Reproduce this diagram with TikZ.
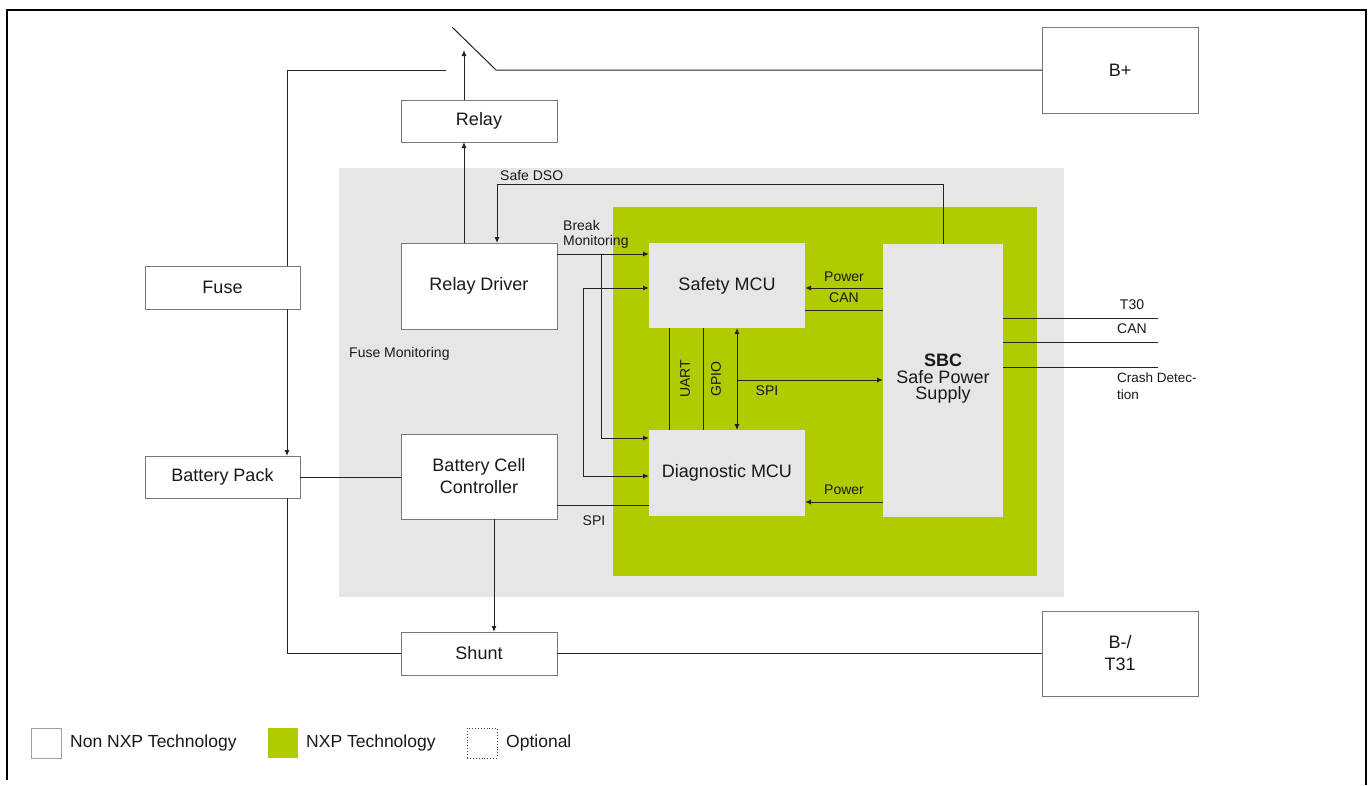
\documentclass[tikz,border=0pt]{standalone}
\usepackage{fontspec}
\setmainfont{Liberation Sans}
\usetikzlibrary{arrows.meta,calc}
\definecolor{lgray}{RGB}{230,230,230}
\definecolor{nxpgreen}{RGB}{176,203,0}
\definecolor{bordergray}{RGB}{120,120,120}
\definecolor{wirec}{RGB}{35,35,35}
\definecolor{txt}{RGB}{25,25,25}
\tikzset{
  wbox/.style={draw=bordergray, line width=0.8pt, fill=white, inner sep=0pt, outer sep=0pt,
    align=center, text=txt, font=\fontsize{18}{22}\selectfont},
  gbox/.style={fill=lgray, inner sep=0pt, outer sep=0pt, align=center, text=txt,
    font=\fontsize{18}{22}\selectfont},
  lbl/.style={inner sep=0pt, text=txt, font=\fontsize{14}{15}\selectfont},
  leg/.style={inner sep=0pt, text=txt, font=\fontsize{17.5}{20}\selectfont, anchor=west},
  wire/.style={draw=wirec, line width=1pt},
  arr/.style={wire, -{Latex[length=6pt,width=5pt]}},
  darr/.style={wire, {Latex[length=6pt,width=5pt]}-{Latex[length=6pt,width=5pt]}},
  frame/.style={draw=black, line width=2.5pt}
}
\begin{document}
\begin{tikzpicture}[x=1pt,y=-1pt]
\useasboundingbox (0,0) rectangle (1368,785);
\fill[white] (0,0) rectangle (1368,785);
% frame
\draw[frame] (7,780) -- (7,10) -- (1366,10) -- (1366,785);
% regions
\fill[lgray] (339,168) rectangle (1064,597);
\fill[nxpgreen] (613,207) rectangle (1037,576);
% boxes
\node[wbox, minimum width=156pt, minimum height=86pt] (bplus) at (1120,70) {B+};
\node[wbox, minimum width=156pt, minimum height=42pt] (relay) at (479,121) {Relay};
\node[wbox, minimum width=155pt, minimum height=43pt] (fuse) at (222.5,287.5) {Fuse};
\node[wbox, minimum width=156pt, minimum height=86pt] (rdrv) at (479,286) {Relay Driver};
\node[wbox, minimum width=155pt, minimum height=42pt] (bpack) at (222.5,477) {Battery Pack};
\node[wbox, minimum width=156pt, minimum height=85pt] (bcc) at (479,476.5) {Battery Cell\\Controller};
\node[wbox, minimum width=156pt, minimum height=43pt] (shunt) at (479,653.5) {Shunt};
\node[wbox, minimum width=156pt, minimum height=85pt] (bminus) at (1120,653.5) {B-/\\T31};
\node[gbox, minimum width=156pt, minimum height=85pt] (smcu) at (727,285.5) {Safety MCU};
\node[gbox, minimum width=156pt, minimum height=86pt] (dmcu) at (727,473) {Diagnostic MCU};
\node[gbox, minimum width=120pt, minimum height=273pt] (sbc) at (943,380.5) {};
\node[inner sep=0pt, align=center, text=txt, font=\fontsize{18}{16.5}\selectfont] (sbct) at (943,379) {\textbf{SBC}\\Safe Power\\Supply};
% coordinates
\coordinate (sw0) at (446,70);
\coordinate (sw1) at (496,70);
\coordinate (sw2) at (452,27);
\coordinate (c1) at (287,70);
\coordinate (xr) at (464,50);
\coordinate (dso) at (497,184);
\coordinate (bm) at (601,254);
\coordinate (bm2) at (601,438);
\coordinate (fm) at (583,288);
\coordinate (fm2) at (583,476);
\coordinate (spi1) at (557,505);
\coordinate (xs) at (494,0);
\coordinate (xu) at (669,0);
\coordinate (xg) at (703,0);
\coordinate (xp) at (737,380);
\coordinate (pw1) at (0,288);
\coordinate (can1) at (0,310);
\coordinate (pw2) at (0,502);
\coordinate (t30) at (1158,318);
\coordinate (can2) at (1158,342);
\coordinate (crash) at (1158,367);
% switch and power path
\draw[wire] (bplus.west) -- (sw1) -- (sw2);
\draw[wire] (sw0) -- (c1) -- (c1 |- fuse.north);
\draw[arr] (c1 |- fuse.south) -- (c1 |- bpack.north);
\draw[wire] (c1 |- bpack.south) |- (shunt.west);
\draw[wire] (shunt.east) -- (bminus.west);
% relay
\draw[arr] (relay.north -| xr) -- (xr);
\draw[arr] (rdrv.north -| xr) -- (relay.south -| xr);
% safe DSO
\draw[arr] (sbc.north) |- (dso) -- (rdrv.north -| dso);
\node[lbl, anchor=west] (lsafe) at (500,175) {Safe DSO};
% break monitoring
\draw[arr] (rdrv.east |- bm) -- (smcu.west |- bm);
\draw[arr] (bm) -- (bm2) -- (dmcu.west |- bm2);
\node[lbl, anchor=west, align=left] (lbreak) at (563,234.5) {Break\\Monitoring};
% fuse monitoring loop
\draw[arr] (fm) -- (smcu.west |- fm);
\draw[arr] (fm) -- (fm2) -- (dmcu.west |- fm2);
\node[lbl, anchor=west] (lfuse) at (349,354) {Fuse Monitoring};
% BCC
\draw[wire] (bpack.east) -- (bpack.east -| bcc.west);
\draw[wire] (spi1) -- (dmcu.west |- spi1);
\node[lbl] (lspi1) at (594,521) {SPI};
\draw[arr] (bcc.south -| xs) -- (shunt.north -| xs);
% MCU links
\draw[wire] (smcu.south -| xu) -- (dmcu.north -| xu);
\draw[wire] (smcu.south -| xg) -- (dmcu.north -| xg);
\draw[darr] (smcu.south -| xp) -- (dmcu.north -| xp);
\draw[arr] (xp) -- (sbc.west |- xp);
\node[lbl, rotate=90] (luart) at (685,379) {UART};
\node[lbl, rotate=90] (lgpio) at (716,379) {GPIO};
\node[lbl] (lspi2) at (767,391) {SPI};
% SBC to MCUs
\draw[arr] (sbc.west |- pw1) -- (smcu.east |- pw1);
\draw[wire] (smcu.east |- can1) -- (sbc.west |- can1);
\draw[arr] (sbc.west |- pw2) -- (dmcu.east |- pw2);
\node[lbl] (lpw1) at (844,277) {Power};
\node[lbl] (lcan1) at (844,298) {CAN};
\node[lbl] (lpw2) at (844,490) {Power};
% SBC outputs
\draw[wire] (sbc.east |- t30) -- (t30);
\draw[wire] (sbc.east |- can2) -- (can2);
\draw[wire] (sbc.east |- crash) -- (crash);
\node[lbl] (lt30) at (1132,305) {T30};
\node[lbl] (lcan2) at (1132,329) {CAN};
\node[lbl, anchor=west, align=left, font=\fontsize{13.5}{17}\selectfont] (lcrash) at (1117,386) {Crash Detec-\\tion};
% legend
\node[draw=bordergray!70, line width=0.9pt, fill=white, minimum width=30pt, minimum height=30pt, inner sep=0pt] (lg1) at (46.5,743) {};
\node[leg] (lt1) at (70,743) {Non NXP Technology};
\node[fill=nxpgreen, minimum width=30pt, minimum height=30pt, inner sep=0pt] (lg2) at (283,743) {};
\node[leg] (lt2) at (306,743) {NXP Technology};
\node[draw=black!75, dotted, line width=0.9pt, minimum width=30pt, minimum height=30pt, inner sep=0pt] (lg3) at (482,743) {};
\node[leg] (lt3) at (506,743) {Optional};
\end{tikzpicture}
\end{document}
